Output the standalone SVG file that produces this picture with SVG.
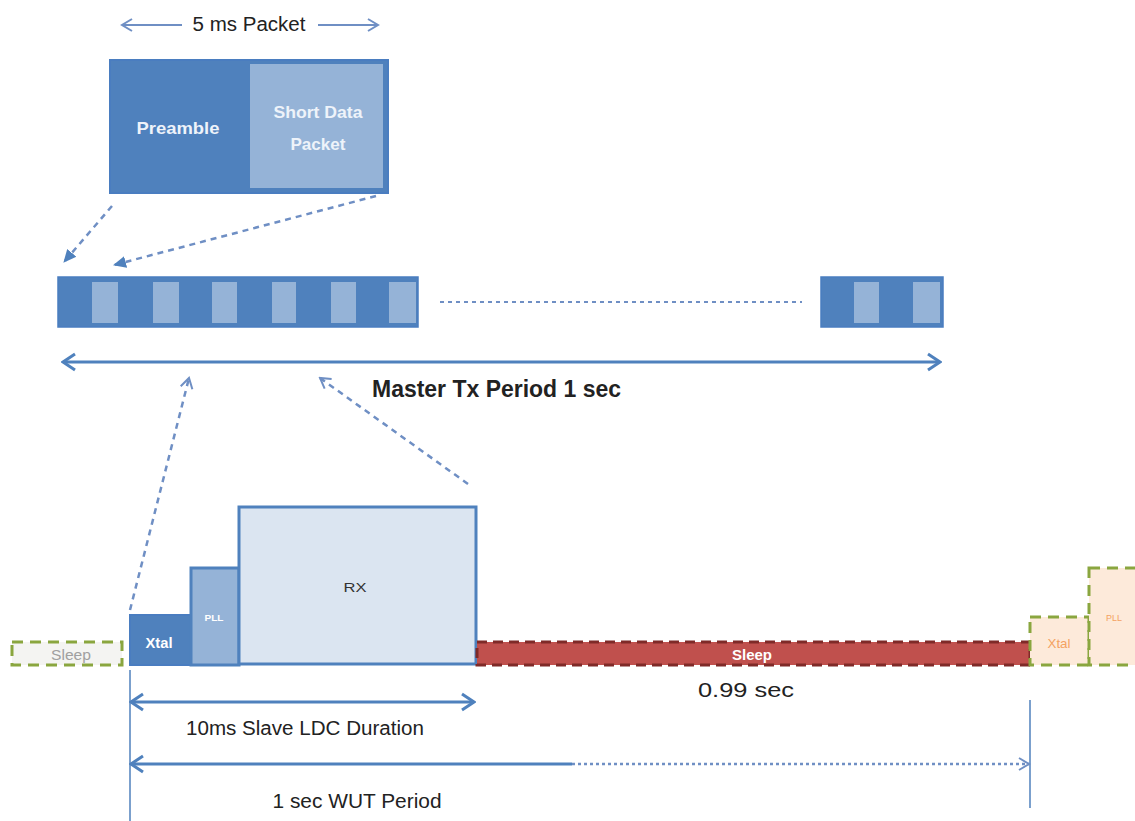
<svg xmlns="http://www.w3.org/2000/svg" width="1135" height="821" viewBox="0 0 1135 821">
<style>
.lbl{font-family:"Liberation Sans Narrow","Liberation Sans",Arial,sans-serif;fill:#222;}
.in{font-family:"Liberation Sans","Open Sans",sans-serif;font-weight:bold;}
.dash{fill:none;stroke:#6f8fc4;stroke-width:2.5;stroke-dasharray:6 5;}
.dim{fill:none;stroke:#4f81bd;stroke-width:3;}
.green{stroke:#8aa63f;stroke-width:3;stroke-dasharray:11 7;}
</style>
<defs>
<marker id="open" markerUnits="userSpaceOnUse" markerWidth="16" markerHeight="20" viewBox="0 0 16 20" refX="14" refY="10" orient="auto-start-reverse">
<path d="M2,2 L14,10 L2,18" fill="none" stroke="#4f81bd" stroke-width="3"/>
</marker>
<marker id="openThin" markerUnits="userSpaceOnUse" markerWidth="14" markerHeight="16" viewBox="0 0 14 16" refX="12" refY="8" orient="auto-start-reverse">
<path d="M2,2 L12,8 L2,14" fill="none" stroke="#6f8fc4" stroke-width="2"/>
</marker>
<marker id="tri" markerUnits="userSpaceOnUse" markerWidth="14" markerHeight="14" viewBox="0 0 14 14" refX="12" refY="7" orient="auto">
<path d="M0,1 L13,7 L0,13 Z" fill="#4f81bd"/>
</marker>
</defs>
<rect width="1135" height="821" fill="#ffffff"/>

<g id="packet-label">
<text class="lbl" x="249" y="31" font-size="20" text-anchor="middle" textLength="113" lengthAdjust="spacingAndGlyphs">5 ms Packet</text>
</g>

<g id="packet">
<rect x="110" y="60" width="278" height="133" fill="#4f81bd" stroke="#4a7dc0" stroke-width="2"/>
<rect x="250" y="64" width="133" height="124" fill="#95b3d7"/>
<text class="in" x="178" y="134" font-size="17" fill="#eef3fa" text-anchor="middle" textLength="83" lengthAdjust="spacingAndGlyphs">Preamble</text>
<text class="in" x="318" y="118" font-size="17" fill="#eef3fa" text-anchor="middle" textLength="89" lengthAdjust="spacingAndGlyphs">Short Data</text>
<text class="in" x="318" y="150" font-size="17" fill="#eef3fa" text-anchor="middle" textLength="55" lengthAdjust="spacingAndGlyphs">Packet</text>
</g>

<g id="tx-bar-1">
<rect x="58" y="277" width="360" height="50" fill="#4f81bd" stroke="#4a7dc0" stroke-width="1.5"/>
<rect x="92" y="282" width="26" height="41" fill="#95b3d7"/>
<rect x="153" y="282" width="26" height="41" fill="#95b3d7"/>
<rect x="212" y="282" width="25" height="41" fill="#95b3d7"/>
<rect x="272" y="282" width="24" height="41" fill="#95b3d7"/>
<rect x="331" y="282" width="25" height="41" fill="#95b3d7"/>
<rect x="389" y="282" width="27" height="41" fill="#95b3d7"/>
</g>

<g id="tx-bar-2">
<rect x="821" y="277" width="122" height="50" fill="#4f81bd" stroke="#4a7dc0" stroke-width="1.5"/>
<rect x="854" y="282" width="25" height="41" fill="#95b3d7"/>
<rect x="913" y="282" width="27" height="41" fill="#95b3d7"/>
</g>

<g id="master-label">
<text class="lbl" x="372" y="397" font-size="24" font-weight="bold" fill="#1a1a1a" textLength="249" lengthAdjust="spacingAndGlyphs">Master Tx Period 1 sec</text>
</g>

<g id="sleep-left">
<rect x="12" y="642" width="110" height="23" fill="#f4f4f2" class="green"/>
<text x="71" y="660" font-size="14" fill="#a0a0a0" font-family="Liberation Sans,sans-serif" text-anchor="middle" textLength="40" lengthAdjust="spacingAndGlyphs">Sleep</text>
</g>

<g id="xtal">
<rect x="130" y="615" width="61" height="50" fill="#4f81bd" stroke="#4a7dc0" stroke-width="2"/>
<text class="in" x="159" y="648" font-size="14" fill="#ffffff" text-anchor="middle" textLength="27" lengthAdjust="spacingAndGlyphs">Xtal</text>
</g>

<g id="pll">
<rect x="191" y="568" width="48" height="97" fill="#95b3d7" stroke="#4f81bd" stroke-width="3"/>
<text class="in" x="214" y="621" font-size="9" fill="#ffffff" text-anchor="middle" textLength="19" lengthAdjust="spacingAndGlyphs">PLL</text>
</g>

<g id="rx">
<rect x="239" y="507" width="237" height="157" fill="#dbe5f1" stroke="#4f81bd" stroke-width="3"/>
<text x="355" y="592" font-size="13" fill="#333" font-family="Liberation Sans,sans-serif" text-anchor="middle" textLength="23" lengthAdjust="spacingAndGlyphs">RX</text>
</g>

<g id="sleep-main">
<rect x="477" y="642" width="553" height="23" fill="#c0504d" stroke="#7f2a28" stroke-width="3" stroke-dasharray="10 6"/>
<text class="in" x="752" y="660" font-size="14" fill="#ffffff" text-anchor="middle" textLength="40" lengthAdjust="spacingAndGlyphs">Sleep</text>
</g>

<g id="xtal-next">
<rect x="1030" y="617" width="59" height="48" fill="#fdeada" class="green"/>
<text x="1059" y="648" font-size="13" fill="#f4a261" font-family="Liberation Sans,sans-serif" text-anchor="middle" textLength="23" lengthAdjust="spacingAndGlyphs">Xtal</text>
</g>

<g id="pll-next">
<rect x="1089" y="568" width="52" height="97" fill="#fdeada" class="green"/>
<text x="1114" y="621" font-size="9" fill="#f4a261" font-family="Liberation Sans,sans-serif" text-anchor="middle" textLength="16" lengthAdjust="spacingAndGlyphs">PLL</text>
</g>

<g id="labels">
<text class="lbl" x="746" y="697" font-size="20" fill="#333" text-anchor="middle" textLength="96" lengthAdjust="spacingAndGlyphs">0.99 sec</text>
<text class="lbl" x="305" y="735" font-size="20" fill="#333" text-anchor="middle" textLength="238" lengthAdjust="spacingAndGlyphs">10ms Slave LDC Duration</text>
<text class="lbl" x="357" y="808" font-size="20" fill="#333" text-anchor="middle" textLength="169" lengthAdjust="spacingAndGlyphs">1 sec WUT Period</text>
</g>

<g id="connectors">
<line x1="122" y1="25" x2="182" y2="25" fill="none" stroke="#6f8fc4" stroke-width="2" marker-start="url(#openThin)"/>
<line x1="318" y1="25" x2="378" y2="25" fill="none" stroke="#6f8fc4" stroke-width="2" marker-end="url(#openThin)"/>
<line class="dash" x1="112" y1="206" x2="64" y2="262" marker-end="url(#tri)"/>
<line class="dash" x1="376" y1="196" x2="114" y2="265" marker-end="url(#tri)"/>
<line x1="440" y1="302" x2="802" y2="302" stroke="#6f8fc4" stroke-width="2" stroke-dasharray="4 4"/>
<line class="dim" x1="63" y1="362" x2="940" y2="362" marker-start="url(#open)" marker-end="url(#open)"/>
<line class="dash" x1="130" y1="610" x2="189" y2="378" marker-end="url(#openThin)"/>
<line class="dash" x1="468" y1="484" x2="320" y2="378" marker-end="url(#openThin)"/>
<line x1="130" y1="670" x2="130" y2="821" stroke="#4f81bd" stroke-width="1.5"/>
<line x1="1030" y1="700" x2="1030" y2="808" stroke="#4f81bd" stroke-width="1.5"/>
<line class="dim" x1="131" y1="702" x2="474" y2="702" marker-start="url(#open)" marker-end="url(#open)"/>
<line class="dim" x1="131" y1="764" x2="572" y2="764" marker-start="url(#open)"/>
<line x1="572" y1="764" x2="1029" y2="764" stroke="#6f8fc4" stroke-width="2.5" stroke-dasharray="3 3" marker-end="url(#openThin)"/>
</g>
</svg>
